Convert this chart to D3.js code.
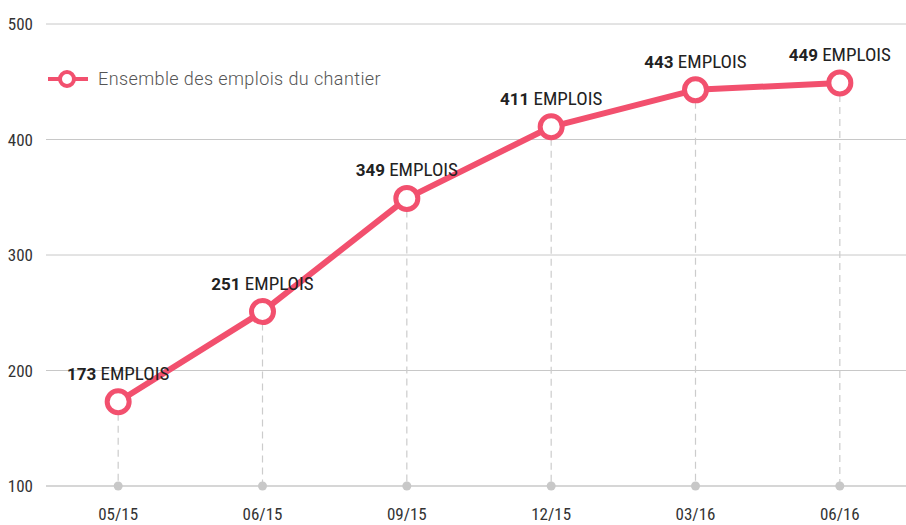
<!DOCTYPE html>
<html><head><meta charset="utf-8">
<script src="https://cdn.jsdelivr.net/npm/d3@7"></script>
<style>
body{margin:0;background:#fff;}
.cond{font-family:"Liberation Sans Narrow","Roboto Condensed","DejaVu Sans Condensed",sans-serif;}
</style></head>
<body><svg id="c" width="906" height="525"></svg>
<script>
const categories = ["05/15","06/15","09/15","12/15","03/16","06/16"];
const values = [173,251,349,411,443,449];
const yTicks = [100,200,300,400,500];
const seriesName = "Ensemble des emplois du chantier";
const unit = "EMPLOIS";

const svg = d3.select("#c");
const color = "#f2506e";
const x = d3.scalePoint().domain(categories).range([46,912]).padding(0.5);
const y = d3.scaleLinear().domain([100,500]).range([486,24]);

// grid
svg.append("g").selectAll("line").data(yTicks).join("line")
  .attr("x1",46).attr("x2",906).attr("y1",d=>y(d)).attr("y2",d=>y(d))
  .attr("stroke","#c8c8c8").attr("stroke-width",d=>d===100?1.5:1);
svg.append("g").selectAll("text").data(yTicks).join("text")
  .attr("class","cond").attr("x",33).attr("y",d=>y(d)+6).attr("text-anchor","end")
  .attr("font-size",17).attr("fill","#333").text(d=>d);

// x labels
svg.append("g").selectAll("text").data(categories).join("text")
  .attr("class","cond").attr("x",d=>x(d)).attr("y",520).attr("text-anchor","middle")
  .attr("font-size",17).attr("fill","#333").text(d=>d);

const data = categories.map((c,i)=>({c,v:values[i]}));
// dashed drops
svg.append("g").selectAll("line").data(data).join("line")
  .attr("x1",d=>x(d.c)).attr("x2",d=>x(d.c)).attr("y1",d=>y(d.v)+12).attr("y2",y(100))
  .attr("stroke","#cccccc").attr("stroke-width",1.2).attr("stroke-dasharray","7,5");
svg.append("g").selectAll("circle").data(data).join("circle")
  .attr("cx",d=>x(d.c)).attr("cy",y(100)).attr("r",4.5).attr("fill","#c8c8c8");

// line
svg.append("path").datum(data)
  .attr("d",d3.line().x(d=>x(d.c)).y(d=>y(d.v)))
  .attr("fill","none").attr("stroke",color).attr("stroke-width",6).attr("stroke-linejoin","round");

// labels
const lab = svg.append("g").selectAll("text").data(data).join("text")
  .attr("x",d=>x(d.c)).attr("y",d=>y(d.v)-22).attr("text-anchor","middle")
  .attr("font-size",17).attr("fill","#222").attr("font-family","Roboto, sans-serif");
lab.append("tspan").attr("font-weight","bold").text(d=>d.v+" ");
lab.append("tspan").attr("class","cond").attr("font-size",19).text(unit);

// points
svg.append("g").selectAll("circle").data(data).join("circle")
  .attr("cx",d=>x(d.c)).attr("cy",d=>y(d.v)).attr("r",11)
  .attr("fill","#fff").attr("stroke",color).attr("stroke-width",5);

// legend
const lg = svg.append("g");
lg.append("line").attr("x1",48).attr("x2",88).attr("y1",79).attr("y2",79).attr("stroke",color).attr("stroke-width",4);
lg.append("circle").attr("cx",67).attr("cy",79).attr("r",7).attr("fill","#fff").attr("stroke",color).attr("stroke-width",4);
lg.append("text").attr("x",98).attr("y",85).attr("font-size",18).attr("letter-spacing",0.4).attr("fill","#555")
  .attr("font-family","Roboto, sans-serif").attr("font-weight",300).text(seriesName);
</script></body></html>
